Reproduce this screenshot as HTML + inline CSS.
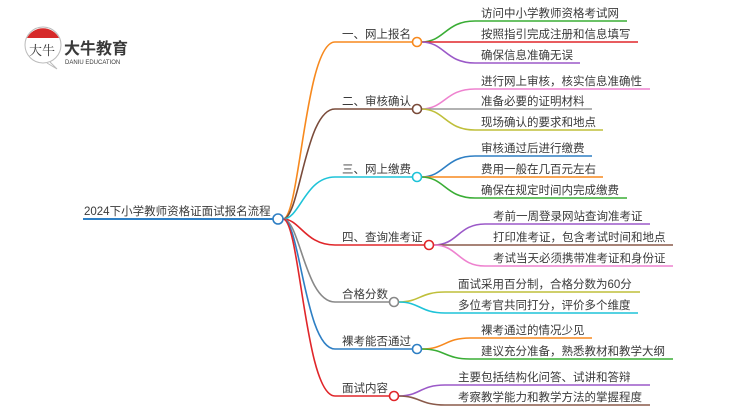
<!DOCTYPE html>
<html><head><meta charset="utf-8"><style>
html,body{margin:0;padding:0;background:#fff;width:750px;height:410px;overflow:hidden}
svg text{font-family:"Liberation Sans","Noto Sans CJK SC",sans-serif;fill:#3a3a3a}
</style></head><body>
<svg width="750" height="410" viewBox="0 0 750 410" xmlns="http://www.w3.org/2000/svg">
<!-- logo -->
<circle cx="43" cy="45" r="18" fill="#fff" stroke="#bbb" stroke-width="1"/>
<path d="M27,38 A18,18 0 0 1 59,38 Z" fill="#d62a2a"/>
<path d="M50,62 L57,69 L47,63" fill="#fff" stroke="#bbb" stroke-width="1"/>
<text x="29" y="55" font-size="13" style="font-family:'Noto Serif CJK SC',serif" fill="#222">大牛</text>
<text x="64" y="54" font-size="16" font-weight="bold" fill="#222">大牛教育</text>
<text x="65" y="64" font-size="6" fill="#333">DANIU EDUCATION</text>

<g fill="none" stroke-width="1.6">
<path d="M283,219 C300,219 305,42 335,42 L413,42" stroke="#f7891e"/>
<path d="M283,219 C300,219 305,109 335,109 L413,109" stroke="#7a4b3a"/>
<path d="M283,219 C300,219 305,177 335,177 L413,177" stroke="#1ec3d8"/>
<path d="M283,219 C300,219 305,245 335,245 L425,245" stroke="#e0262a"/>
<path d="M283,219 C300,219 305,302 335,302 L390,302" stroke="#888"/>
<path d="M283,219 C300,219 305,349 335,349 L413,349" stroke="#2e7fc4"/>
<path d="M283,219 C300,219 305,396 335,396 L390,396" stroke="#e0262a"/>
<path d="M83,219 L273,219" stroke="#2e7fc4" stroke-width="2"/>
<path d="M421,42 C445,42 445,21 475,21 L627,21" stroke="#3aad35"/>
<path d="M421,42 L638,42" stroke="#e0262a"/>
<path d="M421,42 C445,42 445,63 475,63 L580,63" stroke="#9b59c8"/>
<path d="M421,109 C445,109 445,89 475,89 L650,89" stroke="#ee82cf"/>
<path d="M421,109 L592,109" stroke="#999"/>
<path d="M421,109 C445,109 445,130 475,130 L603,130" stroke="#bfbf3a"/>
<path d="M421,177 C445,177 445,156 475,156 L592,156" stroke="#2e7fc4"/>
<path d="M421,177 L603,177" stroke="#f7891e"/>
<path d="M421,177 C445,177 445,198 475,198 L627,198" stroke="#3aad35"/>
<path d="M434,245 C458,245 458,224 485,224 L650,224" stroke="#9b59c8"/>
<path d="M434,245 L673,245" stroke="#8a5a4a"/>
<path d="M434,245 C458,245 458,266 485,266 L673,266" stroke="#ee82cf"/>
<path d="M399,302 C420,302 420,292 445,292 L640,292" stroke="#bfbf3a"/>
<path d="M399,302 C420,302 420,313 445,313 L638,313" stroke="#1ec3d8"/>
<path d="M422,349 C445,349 445,338 470,338 L592,338" stroke="#f7891e"/>
<path d="M422,349 C445,349 445,359 470,359 L673,359" stroke="#3aad35"/>
<path d="M399,396 C420,396 420,385 445,385 L650,385" stroke="#9b59c8"/>
<path d="M399,396 C420,396 420,405 445,405 L650,405" stroke="#8a5a4a"/>
</g>
<g fill="#fff" stroke-width="1.6">
<circle cx="278" cy="219" r="5" stroke="#2e7fc4"/>
<circle cx="417" cy="42" r="4.5" stroke="#f7891e"/>
<circle cx="417" cy="109" r="4.5" stroke="#7a4b3a"/>
<circle cx="417" cy="177" r="4.5" stroke="#1ec3d8"/>
<circle cx="429" cy="245" r="4.5" stroke="#e0262a"/>
<circle cx="394" cy="302" r="4.5" stroke="#888"/>
<circle cx="417" cy="349" r="4.5" stroke="#2e7fc4"/>
<circle cx="394" cy="396" r="4.5" stroke="#e0262a"/>
</g>
<g font-size="11.5">
<text x="84" y="215">2024下小学教师资格证面试报名流程</text>
<text x="342" y="38">一、网上报名</text>
<text x="342" y="105">二、审核确认</text>
<text x="342" y="173">三、网上缴费</text>
<text x="342" y="241">四、查询准考证</text>
<text x="342" y="298">合格分数</text>
<text x="342" y="345">裸考能否通过</text>
<text x="342" y="392">面试内容</text>

<text x="481" y="17">访问中小学教师资格考试网</text>
<text x="481" y="38">按照指引完成注册和信息填写</text>
<text x="481" y="59">确保信息准确无误</text>
<text x="481" y="85">进行网上审核，核实信息准确性</text>
<text x="481" y="105">准备必要的证明材料</text>
<text x="481" y="126">现场确认的要求和地点</text>
<text x="481" y="152">审核通过后进行缴费</text>
<text x="481" y="173">费用一般在几百元左右</text>
<text x="481" y="194">确保在规定时间内完成缴费</text>
<text x="493" y="220">考前一周登录网站查询准考证</text>
<text x="493" y="241">打印准考证，包含考试时间和地点</text>
<text x="493" y="262">考试当天必须携带准考证和身份证</text>
<text x="458" y="288">面试采用百分制，合格分数为60分</text>
<text x="458" y="309">多位考官共同打分，评价多个维度</text>
<text x="481" y="334">裸考通过的情况少见</text>
<text x="481" y="355">建议充分准备，熟悉教材和教学大纲</text>
<text x="458" y="381">主要包括结构化问答、试讲和答辩</text>
<text x="458" y="401">考察教学能力和教学方法的掌握程度</text>
</g>
</svg>
</body></html>
